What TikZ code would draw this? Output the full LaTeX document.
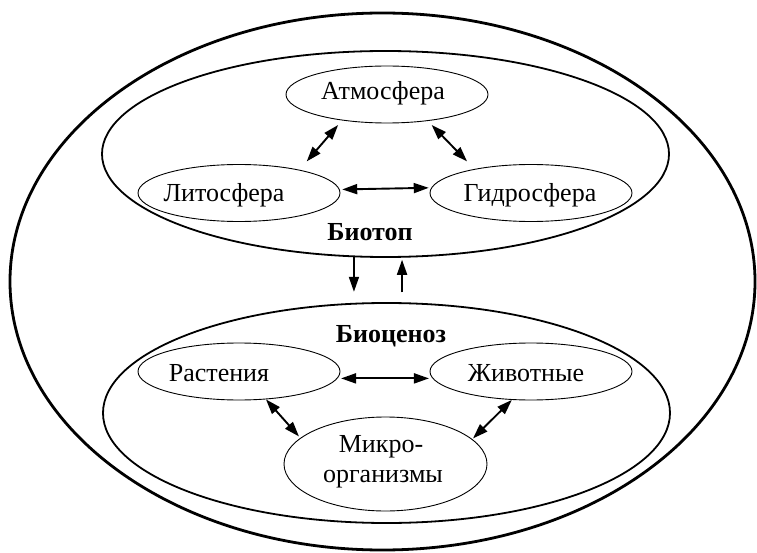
\documentclass[tikz,border=0pt]{standalone}
\usepackage{fontspec}
\setmainfont{Liberation Serif}
\usetikzlibrary{arrows.meta,shapes.geometric}
\begin{document}
\begin{tikzpicture}[x=1pt,y=-1pt,
  sphere/.style={draw, ellipse, line width=0.9pt, minimum width=202pt, minimum height=57pt, inner sep=0pt},
  realm/.style={draw, ellipse, line width=1.8pt, inner sep=0pt},
  word/.style={font=\fontsize{26}{30}\selectfont, anchor=base, inner sep=0pt},
  title/.style={anchor=base, inner sep=0pt, font=\fontsize{26}{30}\selectfont\bfseries},
  tip/.tip={Triangle[length=15pt,width=10pt]},
  link/.style={line width=1.9pt, tip-tip},
  flow/.style={line width=1.8pt, -tip}]
\useasboundingbox (0,0) rectangle (757,553);

% ecosystem boundary
\node[draw, ellipse, line width=2.8pt, minimum width=745pt, minimum height=537pt, inner sep=0pt] (eco) at (382.5,281.5) {};

% biotope and biocenosis
\node[realm, minimum width=567pt, minimum height=206pt] (biotop) at (385.5,154) {};
\node[realm, minimum width=567pt, minimum height=220pt] (biocen) at (386.5,413) {};

% spheres of the biotope
\node[sphere] (atm) at (387,94.5) {};
\node[sphere] (lit) at (239,193) {};
\node[sphere] (hyd) at (531,193) {};

% groups of the biocenosis
\node[sphere] (ras) at (239,371.5) {};
\node[sphere] (zhi) at (531,371.5) {};
\node[sphere, minimum width=203pt, minimum height=94pt] (mic) at (385.5,464) {};

% labels
\node[word] (atmT) at (383,99.5) {Атмосфера};
\node[word] (litT) at (224,202) {Литосфера};
\node[word] (hydT) at (530,202) {Гидросфера};
\node[title] (biotopT) at (370,241) {Биотоп};
\node[title] (biocenT) at (391,342) {Биоценоз};
\node[word] (rasT) at (219,381) {Растения};
\node[word] (zhiT) at (526,381) {Животные};
\node[word] (micT) at (381,452) {Микро-};
\node[word] (micU) at (383,482) {организмы};

% exchanges inside the biotope
\draw[link, shorten <=11pt, shorten >=6pt] (lit.21.8) -- (atm.210.1);
\draw[link, shorten <=5.5pt, shorten >=10.5pt] (atm.327.8) -- (hyd.157.25);
\draw[link, shorten <=2.5pt, shorten >=2.5pt] (lit.2.9) -- (hyd.177.1);

% exchanges inside the biocenosis
\draw[link, shorten <=3.5pt, shorten >=3.5pt] (ras.-4.4) -- (zhi.184.4);
\draw[link, shorten >=2pt] (ras.-46) -- (mic.163.4);
\draw[link, shorten >=1pt] (zhi.236.1) -- (mic.16.9);

% biotope <-> biocenosis
\draw[flow, shorten >=11pt] (biotop.253.4) -- (biotop.253.4 |- biocen.106.1);
\draw[flow, shorten <=10pt, shorten >=2pt] (biocen.82.5) -- (biocen.82.5 |- biotop.278.6);
\end{tikzpicture}
\end{document}
